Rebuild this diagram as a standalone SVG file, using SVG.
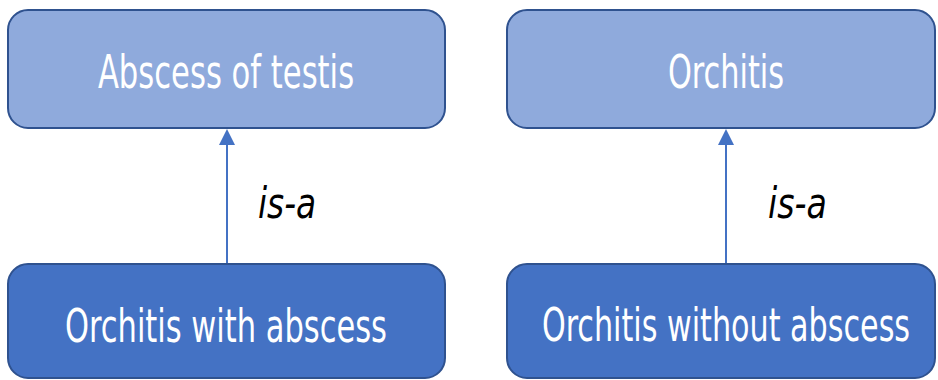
<svg xmlns="http://www.w3.org/2000/svg" width="938" height="380" viewBox="0 0 938 380">
<defs>
<style>
.top{fill:#8FAADC;stroke:#2F528F;stroke-width:2}
.bot{fill:#4472C4;stroke:#2F528F;stroke-width:2}
.lbl{font-family:"Liberation Sans Narrow","DejaVu Sans Condensed","Liberation Sans",sans-serif;fill:#FFFFFF;font-size:46px;text-anchor:middle}
.isa{font-family:"Liberation Sans Narrow","DejaVu Sans Condensed","Liberation Sans",sans-serif;fill:#000000;font-size:42px;font-style:italic;text-anchor:middle}
.conn{stroke:#4472C4;stroke-width:2;fill:none}
</style>
<marker id="arr" markerWidth="8" markerHeight="8" refX="7" refY="4" orient="auto" markerUnits="strokeWidth">
<path d="M0,0 L8,4 L0,8 Z" fill="#4472C4"/>
</marker>
</defs>
<rect width="938" height="380" fill="#FFFFFF"/>
<g id="connectors">
<line class="conn" x1="227" y1="264" x2="227" y2="131" marker-end="url(#arr)"/>
<line class="conn" x1="726" y1="264" x2="726" y2="131" marker-end="url(#arr)"/>
<text class="isa" transform="matrix(0.7,0,0,1,287,218)" x="0" y="0" textLength="83" lengthAdjust="spacingAndGlyphs">is-a</text>
<text class="isa" transform="matrix(0.7,0,0,1,797.5,218)" x="0" y="0" textLength="84" lengthAdjust="spacingAndGlyphs">is-a</text>
</g>
<g id="abscess-of-testis">
<rect class="top" x="8" y="10" width="437" height="118" rx="20"/>
<text class="lbl" transform="matrix(0.7,0,0,1,226,88)" x="0" y="0" textLength="366" lengthAdjust="spacingAndGlyphs">Abscess of testis</text>
</g>
<g id="orchitis">
<rect class="top" x="507" y="10" width="428" height="118" rx="20"/>
<text class="lbl" transform="matrix(0.7,0,0,1,726,88)" x="0" y="0" textLength="166" lengthAdjust="spacingAndGlyphs">Orchitis</text>
</g>
<g id="orchitis-with-abscess">
<rect class="bot" x="8" y="264" width="437" height="114" rx="20"/>
<text class="lbl" transform="matrix(0.7,0,0,1,226,342)" x="0" y="0" textLength="460" lengthAdjust="spacingAndGlyphs">Orchitis with abscess</text>
</g>
<g id="orchitis-without-abscess">
<rect class="bot" x="507" y="264" width="428" height="114" rx="20"/>
<text class="lbl" transform="matrix(0.7,0,0,1,726,341)" x="0" y="0" textLength="526" lengthAdjust="spacingAndGlyphs">Orchitis without abscess</text>
</g>
</svg>
